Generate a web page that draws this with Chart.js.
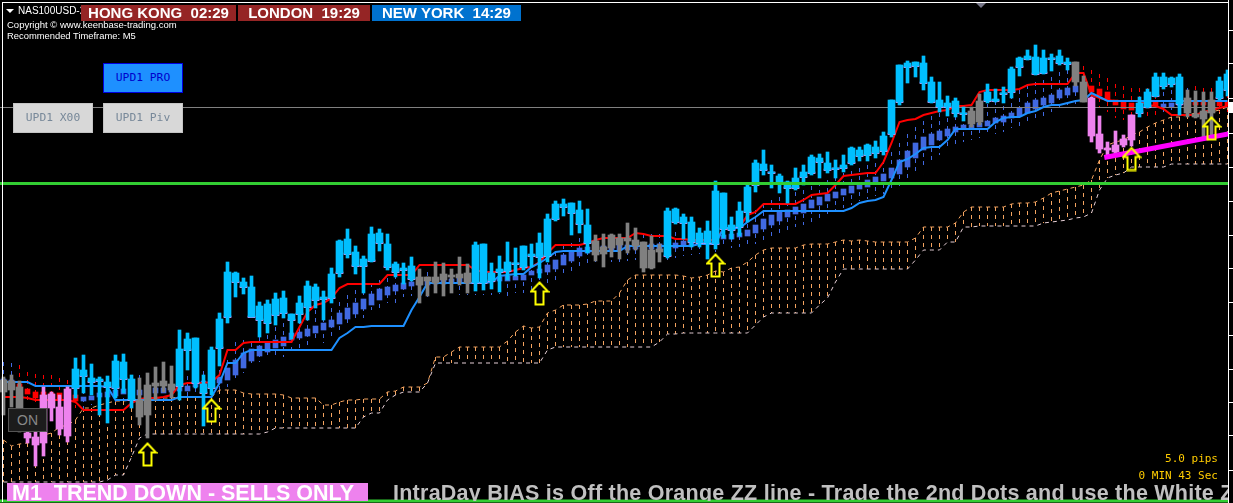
<!DOCTYPE html>
<html>
<head>
<meta charset="utf-8">
<title>NAS100USD</title>
<script src="https://cdn.jsdelivr.net/npm/chart.js@4"></script>
<style>
  html, body { margin: 0; background: #000; overflow: hidden; }
  #wrap { position: relative; width: 1233px; height: 503px; overflow: hidden; }
  #grafica { position: absolute; left: 0; top: 0; }
  .t { position: absolute; white-space: pre; }
  .info { color: #fff; font: 9.5px "Liberation Sans", sans-serif; left: 7px; }
  .sesion { top: 5px; height: 16px; line-height: 16px; color: #fff; font: bold 15px/16px "Liberation Sans", sans-serif; text-align: center; }
  .btn { width: 80px; height: 30px; box-sizing: border-box; text-align: center; font: 11.3px/28px "DejaVu Sans Mono", monospace; }
  .gris { background: #d8d8d8; border: 1px solid #c4c4c4; color: #778899; }
  .gold { color: #ffcc00; font: 11px "DejaVu Sans Mono", monospace; right: 15px; }
</style>
</head>
<body>
<div id="wrap">
  <canvas id="grafica" width="1233" height="503"></canvas>

  <div class="t" style="left:2px;top:2px;width:1226px;height:1px;background:#fff"></div>
  <div class="t" style="left:2px;top:2px;width:1px;height:500px;background:#fff"></div>
  <div class="t" style="left:1229px;top:102px;width:4px;height:11px;background:#fff"></div>
  <div class="t" style="left:976px;top:3px;border-left:5px solid transparent;border-right:5px solid transparent;border-top:5px solid #778"></div>

  <div class="t" style="left:6px;top:9px;border-left:4px solid transparent;border-right:4px solid transparent;border-top:4px solid #fff"></div>
  <div class="t info" style="left:18px;top:5px;font-size:10px">NAS100USD-2</div>
  <div class="t info" style="top:19px">Copyright © www.keenbase-trading.com</div>
  <div class="t info" style="top:30px;font-size:9.4px">Recommended Timeframe: M5</div>

  <div class="t sesion" style="left:81px;width:155px;background:#952525">HONG KONG  02:29</div>
  <div class="t sesion" style="left:238px;width:132px;background:#952525">LONDON  19:29</div>
  <div class="t sesion" style="left:372px;width:149px;background:#0072cf">NEW YORK  14:29</div>

  <div class="t btn" style="left:103px;top:63px;background:#1e90ff;border:1px solid #0000e0;color:#0000cc">UPD1 PRO</div>
  <div class="t btn gris" style="left:13px;top:103px">UPD1 X00</div>
  <div class="t btn gris" style="left:103px;top:103px">UPD1 Piv</div>
  <div class="t" style="left:8px;top:408px;width:39px;height:24px;box-sizing:border-box;background:#1c1c1c;border:1px solid #555;color:#888;text-align:center;font:14px/22px 'Liberation Sans',sans-serif">ON</div>

  <div class="t gold" style="top:452px">5.0 pips</div>
  <div class="t gold" style="top:469px">0 MIN 43 Sec</div>

  <div class="t" style="left:7px;top:483px;width:361px;height:18px;background:#ee82ee;color:#fff;font:bold 21.5px/21px 'Liberation Sans',sans-serif;text-indent:5px">M1  TREND DOWN - SELLS ONLY</div>
  <div class="t" style="left:393px;top:483px;width:835px;height:18px;overflow:hidden;color:#c0c0c0;letter-spacing:0.25px;font:bold 21.5px/21px 'Liberation Sans',sans-serif">IntraDay BIAS is Off the Orange ZZ line - Trade the 2nd Dots and use the White Z</div>
</div>

<script>
// ===============================
// VELAS (filas de la imagen, eje y invertido)
// ===============================
const candleKinds = [
  "g","g","g","v","v","v","v","v","v","c",
  "c","c","c","c","c","c","c","g","g","g",
  "g","g","c","c","c","c","c","c","c","c",
  "c","c","c","c","c","c","c","c","c","c",
  "c","c","c","c","c","c","c","c","c","c",
  "c","c","g","g","g","g","g","g","g","c",
  "c","c","c","c","c","c","c","c","c","c",
  "c","c","c","c","g","g","g","g","g","g",
  "g","g","g","c","c","c","c","c","c","c",
  "c","c","c","c","c","c","c","c","c","c",
  "c","c","c","c","c","c","c","c","c","c",
  "c","c","c","c","c","c","c","c","c","c",
  "c","g","g","c","c","c","c","c","c","c",
  "c","c","c","c","g","g","v","v","v","v",
  "v","v","c","c","c","c","c","c","g","g",
  "g","g","c","c"
];
const bodyTop = [
  380,381,387,433,437,395,394,407,389,369,
  370,378,379,382,361,362,379,400,385,383,
  381,384,349,339,338,384,350,319,272,273,
  282,287,306,304,299,298,314,303,286,287,
  297,274,241,239,252,259,234,233,244,264,
  268,266,277,277,277,274,275,274,273,245,
  244,273,269,262,263,246,254,243,219,204,
  204,203,210,225,241,247,235,238,238,240,
  242,250,249,211,209,217,222,233,231,191,
  193,225,211,187,163,164,172,176,182,178,
  172,157,158,163,168,165,148,150,145,147,
  136,100,65,63,62,63,82,100,103,101,
  113,111,101,92,99,93,69,58,56,57,
  58,58,56,62,62,82,98,134,148,145,
  139,115,103,92,77,77,78,77,98,114,
  111,100,81,74
];
const bodyBottom = [
  392,390,408,438,445,443,408,429,436,388,
  376,382,381,387,388,379,400,417,415,386,
  386,390,386,350,383,393,388,348,317,282,
  287,317,320,323,315,313,320,314,307,300,
  299,298,273,254,266,266,261,243,267,272,
  270,279,285,281,283,280,277,278,283,283,
  283,281,272,271,264,267,256,257,256,219,
  207,213,224,243,255,254,248,245,241,246,
  268,268,252,256,222,223,242,243,243,244,
  229,230,227,212,185,170,173,184,188,188,
  177,173,162,170,169,168,163,156,155,153,
  151,134,102,67,66,83,102,107,107,113,
  114,124,122,101,101,94,92,67,59,74,
  73,59,63,64,82,102,136,149,150,152,
  145,140,113,107,96,86,84,104,113,117,
  119,113,98,90
];
const wickTop = [
  377,375,381,425,430,387,392,395,387,358,
  355,364,377,376,355,354,375,378,373,367,
  362,366,330,333,338,375,347,313,262,272,
  278,276,302,300,293,291,314,296,281,284,
  291,268,240,229,246,256,227,229,234,262,
  263,257,269,277,262,263,269,257,264,242,
  244,263,256,242,248,246,244,233,214,201,
  199,203,201,209,235,234,234,234,223,228,
  242,236,244,208,208,214,217,228,221,181,
  193,217,202,184,160,150,165,174,181,168,
  165,155,154,152,160,155,147,147,144,141,
  132,100,65,61,62,56,77,82,96,98,
  107,107,94,84,89,87,67,57,50,45,
  50,54,50,58,62,76,97,116,142,131,
  135,115,97,89,73,73,77,74,90,91,
  92,92,77,70
];
const wickBottom = [
  415,407,432,443,466,456,421,435,442,398,
  393,395,415,423,398,393,408,425,438,400,
  392,398,400,370,388,426,395,366,323,297,
  294,317,337,333,325,318,339,323,320,308,
  320,303,277,258,274,293,262,251,270,277,
  284,281,303,296,293,296,293,285,293,291,
  290,289,292,280,276,270,267,278,262,221,
  216,235,233,253,261,267,257,259,253,250,
  272,269,262,258,224,239,247,247,259,249,
  238,239,236,222,192,175,188,193,203,190,
  185,175,178,173,178,172,165,161,161,158,
  155,137,105,83,77,90,103,112,116,117,
  121,127,125,103,102,103,98,76,60,75,
  74,71,65,70,86,102,142,153,158,155,
  147,146,117,108,97,89,87,115,117,118,
  140,137,100,96
];

// ===============================
// VELAS SUAVIZADAS (azul / rojo)
// ===============================
const smoothKinds = [
  "b","b","r","r","r","r","r","r","r","r",
  "b","b","b","b","b","b","b","b","b","b",
  "b","b","b","b","b","b","b","b","b","b",
  "b","b","b","b","b","b","b","b","b","b",
  "b","b","b","b","b","b","b","b","b","b",
  "b","b","b","b","b","b","b","b","b","b",
  "b","b","b","b","b","b","b","b","b","b",
  "b","b","b","b","b","b","b","b","b","b",
  "b","b","b","b","b","b","b","b","b","b",
  "b","b","b","b","b","b","b","b","b","b",
  "b","b","b","b","b","b","b","b","b","b",
  "b","b","b","b","b","b","b","b","b","b",
  "b","b","b","b","b","b","b","b","b","b",
  "b","b","b","b","b","r","r","r","r","r",
  "r","r","r","r","r","b","b","b","b","r",
  "r","r","r","r"
];
const smoothTop = [
  379,380,384,389,392,392,393,393,394,395,
  397,396,393,392,390,389,390,390,388,388,
  388,387,386,386,383,381,379,377,368,360,
  353,349,346,343,340,337,333,332,329,326,
  323,320,313,308,303,299,294,289,287,285,
  283,282,281,280,280,279,279,278,278,278,
  278,277,277,276,276,275,271,269,265,260,
  255,252,248,247,246,246,245,245,245,244,
  244,244,244,244,243,241,240,239,238,237,
  235,234,233,230,225,219,215,212,210,207,
  204,200,197,194,192,189,186,183,180,177,
  174,168,160,151,143,137,134,131,129,127,
  125,125,123,121,118,116,113,108,103,100,
  98,95,90,88,86,83,86,89,92,100,
  102,103,103,103,101,104,103,102,102,101,
  102,102,102,101
];
const smoothBottom = [
  384,385,390,394,398,398,399,400,400,401,
  401,400,397,397,396,394,395,395,394,393,
  393,392,391,391,387,386,385,383,380,375,
  368,361,356,352,348,346,340,338,336,333,
  330,327,324,319,314,309,305,300,295,291,
  289,286,285,285,284,284,283,283,283,282,
  282,282,281,281,280,280,275,273,272,269,
  265,261,256,253,252,251,250,250,250,249,
  249,249,249,249,248,245,245,244,243,242,
  239,239,237,236,233,229,225,221,217,214,
  213,208,205,201,198,195,193,189,187,183,
  181,178,174,167,158,150,145,140,136,132,
  129,128,127,126,123,122,118,116,113,109,
  105,103,98,95,92,90,92,96,100,105,
  109,110,110,108,106,107,107,106,106,105,
  105,105,106,106
];
const smoothHigh = [
  362,363,365,372,374,375,375,378,380,381,
  382,380,378,376,376,374,375,375,374,373,
  373,373,374,376,372,371,372,370,360,342,
  340,343,337,335,327,323,323,320,317,310,
  310,308,302,295,290,283,283,280,278,275,
  270,270,272,272,272,271,271,270,270,270,
  270,269,269,268,268,266,262,260,255,252,
  245,243,238,235,235,236,236,235,235,234,
  234,234,234,234,232,231,230,229,228,226,
  224,222,220,216,210,204,200,197,194,192,
  190,186,182,180,177,173,171,168,165,163,
  160,152,143,134,127,121,116,113,110,108,
  108,107,105,104,101,98,95,90,85,82,
  80,77,72,70,68,66,70,74,78,84,
  86,88,88,88,87,92,90,88,88,86,
  88,88,87,86
];
const smoothLow = [
  390,390,395,400,404,404,405,406,406,408,
  410,405,405,403,402,400,401,401,400,399,
  399,398,397,398,395,392,392,390,387,380,
  373,367,362,358,357,357,355,348,345,340,
  343,337,330,327,320,318,310,308,303,303,
  297,296,302,297,296,296,295,295,295,295,
  295,295,294,296,293,293,290,285,284,280,
  277,272,268,265,262,262,262,262,261,260,
  260,260,260,260,258,256,255,254,253,252,
  248,248,247,247,244,241,238,234,230,227,
  225,222,218,214,211,208,205,201,199,196,
  194,190,186,180,172,165,160,155,150,146,
  142,140,138,136,134,132,128,126,124,120,
  116,112,108,105,104,102,104,108,112,118,
  120,120,120,118,116,113,113,112,112,112,
  112,112,112,112
];

// ===============================
// LINEAS
// ===============================
const redLine = [
  397,397,397,398,400,400,400,400,400,402,
  410,410,410,410,410,410,403,399,398,398,
  397,395,385,383,383,383,382,375,350,350,
  343,342,342,342,342,342,342,327,312,305,
  303,298,288,284,284,284,284,284,275,275,
  275,275,265,265,265,265,265,265,265,270,
  272,272,272,272,270,268,267,262,253,245,
  245,245,245,243,240,238,238,238,238,233,
  234,236,236,236,239,239,240,240,240,240,
  229,229,227,215,212,204,204,204,204,204,
  200,195,194,193,185,176,175,174,173,173,
  162,143,122,120,119,115,113,111,110,106,
  106,105,92,90,90,90,90,89,85,84,
  84,84,84,84,73,73,95,98,100,101,
  101,101,101,105,106,109,115,115,115,115,
  112,110,108,106
];
const blueLine = [
  382,382,382,382,386,386,386,386,386,386,
  386,386,386,387,400,400,400,400,400,400,
  400,400,397,397,397,397,397,383,363,363,
  353,350,350,350,350,350,350,350,350,350,
  350,350,338,333,327,327,326,326,326,326,
  326,310,297,283,283,283,283,283,283,283,
  283,282,276,275,274,274,267,263,258,252,
  251,251,251,251,251,251,251,251,246,246,
  246,246,246,246,246,246,246,244,244,244,
  228,228,228,222,217,211,211,211,211,211,
  211,211,211,211,211,211,208,203,201,200,
  197,180,162,159,154,148,147,147,140,129,
  129,129,129,129,122,118,117,117,113,111,
  107,105,105,103,101,100,93,97,101,101,
  101,101,101,101,101,101,101,101,101,101,
  101,101,101,101
];
const cloudTop = [
  440,446,444,443,440,435,433,427,425,420,
  408,408,405,403,401,401,400,400,400,398,
  398,398,397,397,397,397,397,390,390,390,
  393,394,394,394,394,395,398,398,398,398,
  405,405,402,400,400,399,399,399,392,391,
  387,387,387,383,357,357,352,347,347,347,
  347,347,347,341,332,326,328,327,313,310,
  305,305,305,304,301,301,301,293,280,275,
  275,275,275,275,275,276,278,277,275,271,
  272,268,267,262,255,250,248,248,248,248,
  245,244,244,244,242,240,241,240,241,242,
  242,242,242,242,238,227,227,227,227,223,
  212,207,207,207,207,207,204,203,203,202,
  198,193,191,189,187,185,180,160,145,142,
  140,135,132,127,123,120,117,117,115,113,
  113,112,110,107
];
const cloudBottom = [
  482,482,482,482,482,482,482,482,482,482,
  482,482,482,480,475,475,457,438,434,434,
  434,434,434,434,434,434,434,434,434,434,
  434,434,434,432,428,428,428,428,428,428,
  428,428,428,428,428,417,413,413,400,395,
  392,392,392,383,363,363,363,363,363,363,
  363,363,363,363,363,363,363,363,350,347,
  347,347,347,347,347,347,347,347,347,347,
  347,347,342,334,334,333,333,333,333,333,
  333,333,333,333,325,317,313,313,313,313,
  313,313,305,298,282,269,269,269,269,269,
  269,269,269,269,260,250,250,250,242,242,
  227,227,226,226,226,226,226,226,226,226,
  223,222,221,220,218,217,213,190,178,175,
  173,167,167,167,167,167,164,164,164,164,
  164,164,164,164
];

const greenLevels = [183.5, 501];
const grayLevels = [107.5];
const magentaBars = [137.6, 153.1];
const magentaValues = [157.5, 134];
const arrowBars = [18, 26, 67, 89, 141, 151];
const arrowValues = [454.5, 410.5, 293.5, 265.5, 159, 128.5];
const axisTicks = [30, 64, 98, 133, 167, 201, 235, 268, 302, 335, 369, 402, 435, 470];

const barColors = { c: "#00bfff", g: "#808080", v: "#ee82ee", b: "#4169e1", r: "#ff0000" };
const xMin = -0.4375;
const xMax = 153.0625;

// ===============================
// UTIL
// ===============================
function ranges(a, b) {
  return a.map((v, i) => ({ x: i, y: [v, b[i]] }));
}

function serie(values) {
  return values.map((v, i) => ({ x: i, y: v }));
}

// tramos verticales separados por huecos
function segments(a, b, keep) {
  const out = [];
  a.forEach((v, i) => {
    if (keep && !keep(i)) return;
    out.push({ x: i, y: v }, { x: i, y: b[i] }, { x: i, y: null });
  });
  return out;
}

function levels(values) {
  const out = [];
  values.forEach(v => out.push({ x: xMin, y: v }, { x: xMax, y: v }, { x: xMax, y: null }));
  return out;
}

function line(data, color, width, order, dash) {
  return {
    type: "scatter", data, showLine: true, borderColor: color, borderWidth: width,
    borderDash: dash || [], pointRadius: 0, spanGaps: false, order
  };
}

function bars(data, colors, thickness, order) {
  return {
    type: "bar", data, grouped: false, barThickness: thickness, order,
    backgroundColor: colors, borderWidth: 0
  };
}

function arrowImage() {
  const c = document.createElement("canvas");
  c.width = 20;
  c.height = 25;
  const g = c.getContext("2d");
  g.strokeStyle = "#ffff00";
  g.lineWidth = 2;
  g.beginPath();
  g.moveTo(10, 1.5);
  g.lineTo(18.5, 10.5);
  g.lineTo(14, 10.5);
  g.lineTo(14, 23.5);
  g.lineTo(6, 23.5);
  g.lineTo(6, 10.5);
  g.lineTo(1.5, 10.5);
  g.closePath();
  g.stroke();
  return c;
}

const pinkTicks = bodyBottom
  .map((v, i) => ({ x: i, y: [v - 1, v + 0.6] }))
  .filter(p => candleKinds[p.x] === "c");

// ===============================
// GRAFICA
// ===============================
new Chart(document.getElementById("grafica").getContext("2d"), {
  type: "bar",
  data: {
    datasets: [
      line(segments(cloudTop, cloudBottom), "#f4a460", 1, 20, [4, 4]),
      line(serie(cloudTop), "#f4a460", 1, 19, [4, 4]),
      line(serie(cloudBottom), "#e6cfd6", 1, 18, [4, 4]),
      line(segments(smoothHigh, smoothLow, i => smoothKinds[i] === "b"), "#4169e1", 1, 17, [4, 4]),
      line(segments(smoothHigh, smoothLow, i => smoothKinds[i] === "r"), "#ff0000", 1, 16, [4, 4]),
      bars(ranges(smoothTop, smoothBottom), smoothKinds.map(k => barColors[k]), 5, 15),
      line(levels(grayLevels), "#808080", 1, 14),
      line(serie(redLine), "#ff0000", 2, 12),
      line(serie(blueLine), "#1e90ff", 2, 11),
      bars(pinkTicks, "#ff8cff", 7, 10),
      bars(ranges(wickTop, wickBottom), candleKinds.map(k => barColors[k]), 3, 9),
      bars(ranges(bodyTop, bodyBottom), candleKinds.map(k => barColors[k]), 7, 8),
      line(levels(greenLevels), "#32cd32", 3, 6),
      line(magentaBars.map((b, i) => ({ x: b, y: magentaValues[i] })), "#ff00ff", 5, 5),
      {
        type: "scatter",
        data: arrowBars.map((b, i) => ({ x: b, y: arrowValues[i] })),
        pointStyle: arrowImage(),
        pointRadius: 10,
        order: 1
      }
    ]
  },
  options: {
    responsive: false,
    animation: false,
    layout: { padding: 0, autoPadding: false },
    plugins: { legend: { display: false }, tooltip: { enabled: false } },
    scales: {
      x: { type: "linear", display: false, min: xMin, max: xMax, offset: false, grid: { display: false } },
      y: {
        type: "linear",
        position: "right",
        reverse: true,
        min: 0,
        max: 503,
        afterBuildTicks: s => { s.ticks = axisTicks.map(v => ({ value: v })); },
        ticks: { display: false },
        border: { color: "#fff", width: 1 },
        grid: { drawOnChartArea: false, color: "#fff", tickLength: 5 }
      }
    }
  }
});
</script>
</body>
</html>
